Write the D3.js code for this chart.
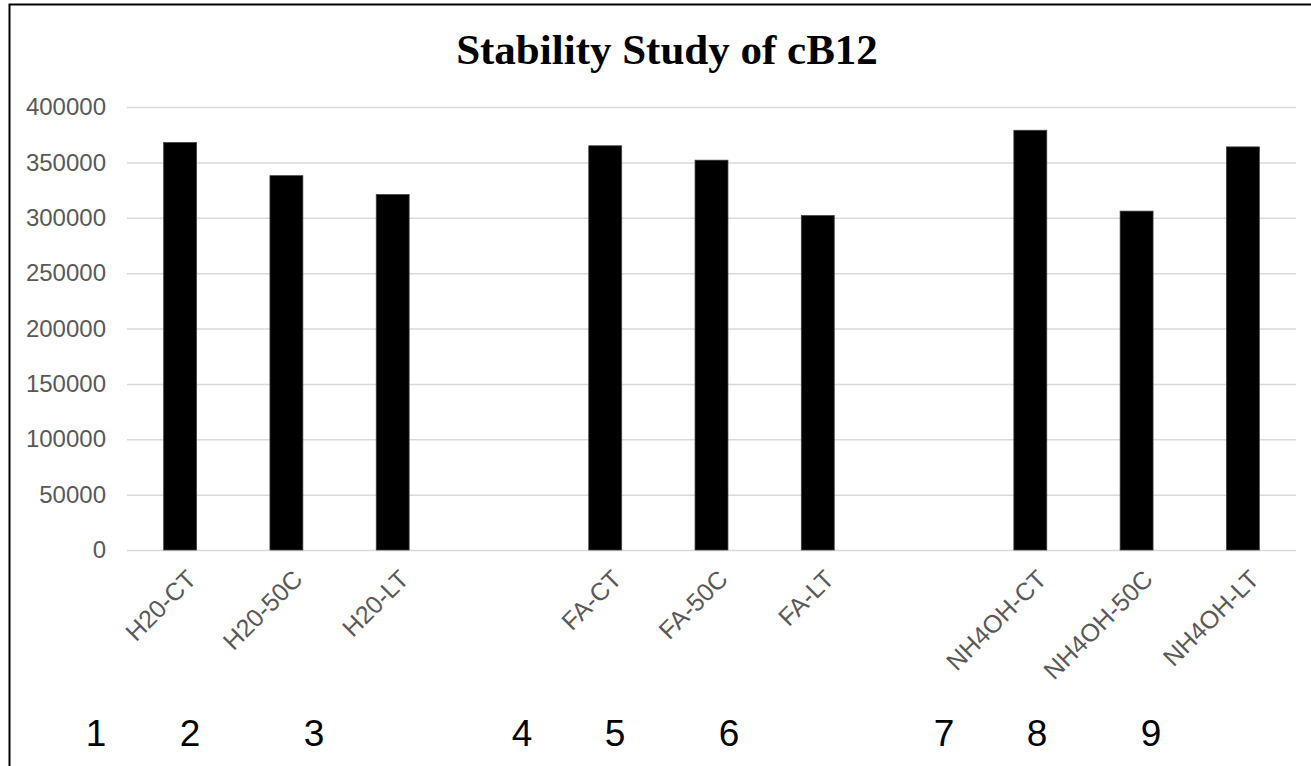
<!DOCTYPE html>
<html>
<head>
<meta charset="utf-8">
<script src="https://cdn.jsdelivr.net/npm/d3@7"></script>
<style>
  body { margin: 0; background: #fff; }
  svg { display: block; }
</style>
</head>
<body>
<div id="chart"></div>
<script>
// blank entries are the empty gaps between the groups
var categories = ["H20-CT", "H20-50C", "H20-LT", "",
                  "FA-CT", "FA-50C", "FA-LT", "",
                  "NH4OH-CT", "NH4OH-50C", "NH4OH-LT"];
var values = [368000, 338000, 321000, null,
              365000, 352000, 302000, null,
              379000, 306000, 364000];
var yTicks = [0, 50000, 100000, 150000, 200000, 250000, 300000, 350000, 400000];
var numberLabels = ["1", "2", "3", "4", "5", "6", "7", "8", "9"];

var w = 1311;
var h = 766;
var plot = { left: 127, right: 1296, top: 107, bottom: 550 };
// x spots of the loose numbers along the bottom
var numberX = [96, 190, 314, 522, 615, 729, 944, 1037, 1151];

var xscale = d3.scaleBand()
    .domain(d3.range(categories.length))
    .range([plot.left, plot.right])
    .paddingInner(0.69)
    .paddingOuter(0.345);

var yscale = d3.scaleLinear()
    .domain([0, 400000])
    .range([plot.bottom, plot.top]);

var svg = d3.select("#chart")
    .append("svg")
    .attr("width", w)
    .attr("height", h);

// frame (right and bottom edges run off the picture)
svg.append("path")
    .attr("d", "M9.5," + h + "V4.5H" + w)
    .attr("fill", "none")
    .attr("stroke", "#000")
    .attr("stroke-width", 2);

svg.append("text")
    .attr("x", 667)
    .attr("y", 64)
    .attr("text-anchor", "middle")
    .attr("font-family", "'Liberation Serif', 'Times New Roman', serif")
    .attr("font-weight", "bold")
    .attr("font-size", "43px")
    .text("Stability Study of cB12");

// gridlines + y labels
var yaxis = d3.axisLeft(yscale)
    .tickValues(yTicks)
    .tickSize(-(plot.right - plot.left))
    .tickPadding(21)
    .tickFormat(d3.format("d"));

var gy = svg.append("g")
    .attr("transform", "translate(" + plot.left + ",0)")
    .call(yaxis);
gy.select(".domain").remove();
gy.selectAll(".tick line")
    .attr("stroke", "#d9d9d9")
    .attr("stroke-width", 1.5);
gy.selectAll(".tick text")
    .attr("fill", "#595959")
    .attr("font-family", "Arial, 'Liberation Sans', sans-serif")
    .attr("font-size", "24px");

svg.selectAll("rect.bar")
    .data(values.map(function(d, i) { return { i: i, v: d }; })
                .filter(function(d) { return d.v != null; }))
    .enter()
    .append("rect")
    .attr("class", "bar")
    .attr("x", function(d) { return xscale(d.i); })
    .attr("y", function(d) { return yscale(d.v); })
    .attr("width", xscale.bandwidth())
    .attr("height", function(d) { return yscale(0) - yscale(d.v); })
    .attr("fill", "#000")
    .attr("stroke", "#404040")
    .attr("stroke-width", 0.75);

// rotated category labels
var xaxis = d3.axisBottom(xscale)
    .tickSize(0)
    .tickFormat(function(i) { return categories[i]; });

var gx = svg.append("g")
    .attr("transform", "translate(0," + plot.bottom + ")")
    .call(xaxis);
gx.select(".domain").remove();
gx.selectAll(".tick text")
    .attr("fill", "#595959")
    .attr("font-family", "Arial, 'Liberation Sans', sans-serif")
    .attr("font-size", "25px")
    .attr("text-anchor", "end")
    .attr("y", 0)
    .attr("dy", "0.72em")
    .attr("transform", "translate(5,18) rotate(-45)");

svg.selectAll("text.num")
    .data(numberLabels)
    .enter()
    .append("text")
    .attr("class", "num")
    .attr("x", function(d, i) { return numberX[i]; })
    .attr("y", 746)
    .attr("text-anchor", "middle")
    .attr("font-family", "Arial, 'Liberation Sans', sans-serif")
    .attr("font-size", "37px")
    .attr("fill", "#000")
    .text(function(d) { return d; });
</script>
</body>
</html>
